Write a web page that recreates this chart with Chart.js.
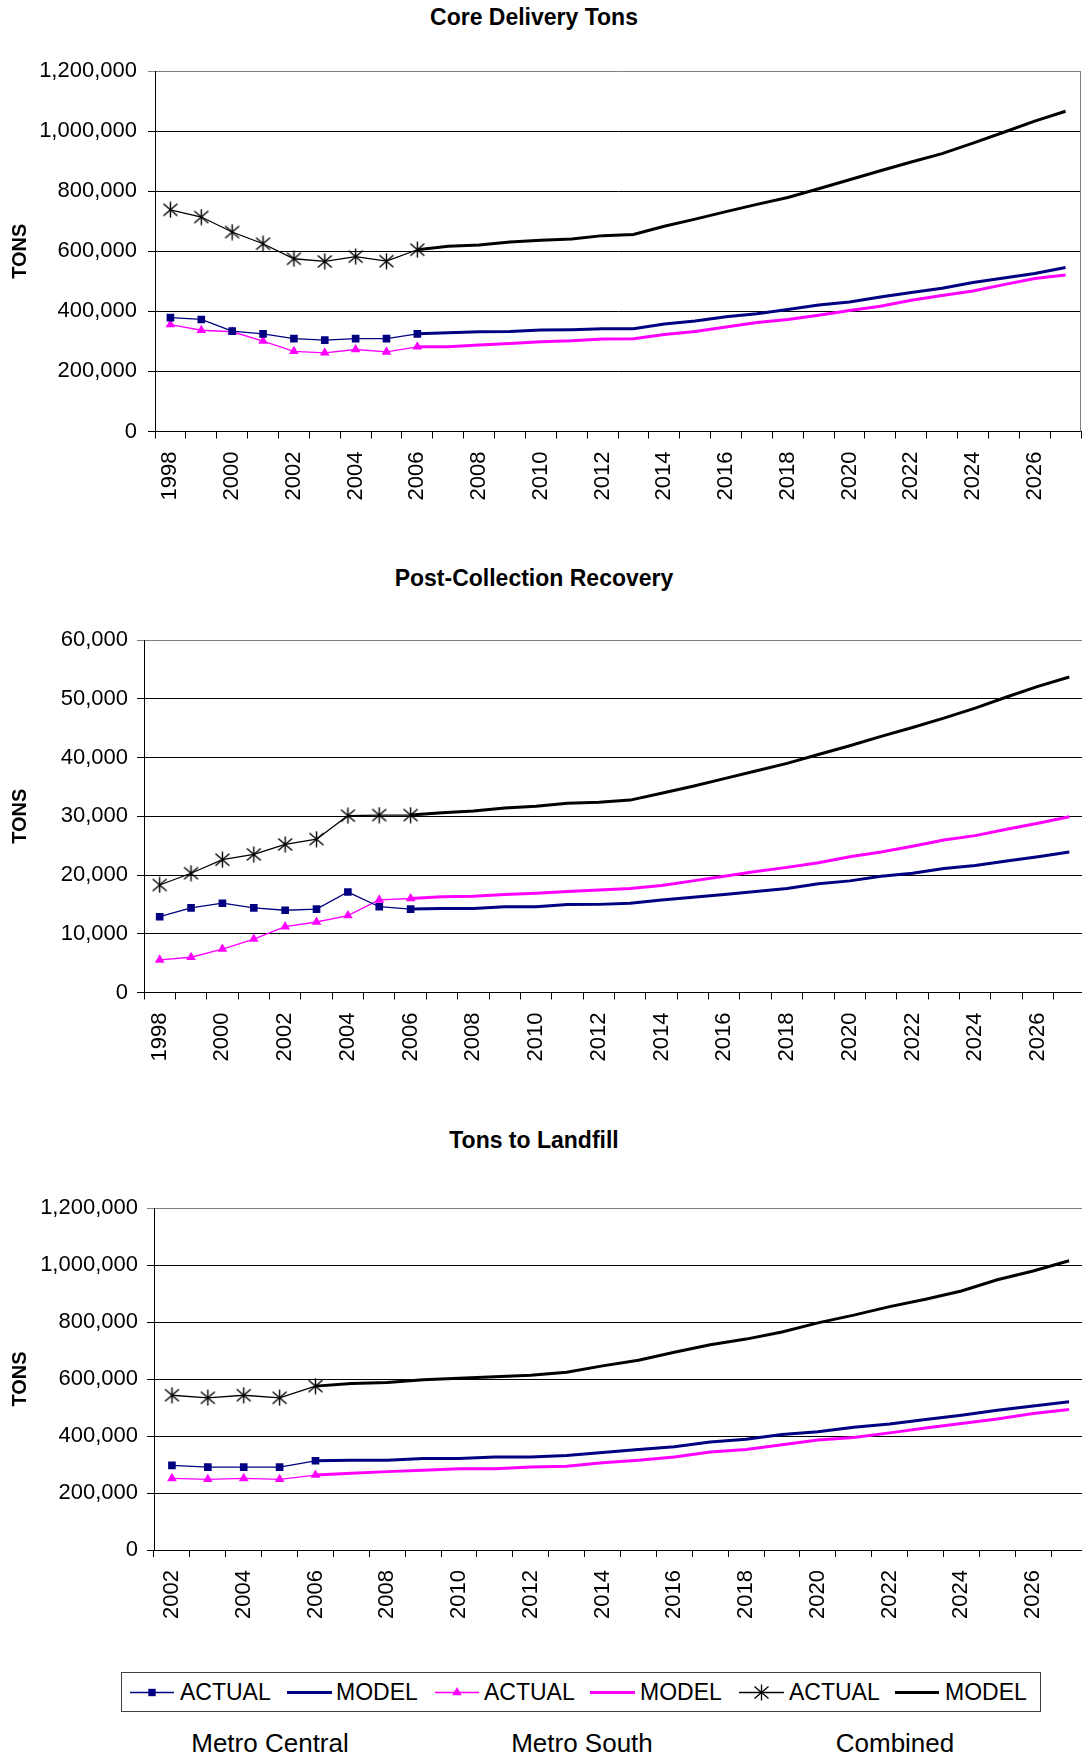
<!DOCTYPE html>
<html>
<head>
<meta charset="utf-8">
<script src="https://cdn.jsdelivr.net/npm/chart.js@4.4.1/dist/chart.umd.min.js"></script>
<style>
  html, body { margin: 0; padding: 0; background: #fff; overflow: hidden; width: 1082px; height: 1757px; }
  body { position: relative; font-family: 'Liberation Sans', Arial, sans-serif; color: #000; }
  canvas { position: absolute; left: 0; }
  .chart-title { position: absolute; left: 0; width: 1068px; text-align: center; font-weight: bold; font-size: 23px; line-height: 23px; white-space: nowrap; }
  #legendBox { position: absolute; left: 121px; top: 1672px; width: 920px; height: 40px; box-sizing: border-box; border: 1px solid #404040; }
  .legend-text { position: absolute; font-size: 23px; line-height: 23px; white-space: nowrap; }
  .group-label { position: absolute; width: 240px; text-align: center; font-size: 26px; line-height: 26px; white-space: nowrap; }
  #legendMarks { position: absolute; left: 0; top: 1672px; }
</style>
</head>
<body>
<div class="chart-title" style="top:6px">Core Delivery Tons</div>
<canvas id="coreChart"></canvas>
<div class="chart-title" style="top:567px">Post-Collection Recovery</div>
<canvas id="recoveryChart"></canvas>
<div class="chart-title" style="top:1129px">Tons to Landfill</div>
<canvas id="landfillChart"></canvas>
<div id="legendBox"></div>
<svg id="legendMarks" width="1082" height="40"></svg>
<div id="legendTexts"></div>

<script>
// ---- categories ----
const yearsFrom1998 = ['1998','1999','2000','2001','2002','2003','2004','2005','2006','2007',
  '2008','2009','2010','2011','2012','2013','2014','2015','2016','2017',
  '2018','2019','2020','2021','2022','2023','2024','2025','2026','2027'];
const yearsFrom2002 = ['2002','2003','2004','2005','2006','2007','2008','2009','2010','2011',
  '2012','2013','2014','2015','2016','2017','2018','2019','2020','2021',
  '2022','2023','2024','2025','2026','2027'];

// ---- Core Delivery Tons (actual 1998-2006, model 2006-2027) ----
const coreCentralActual  = [379000, 373000, 334000, 325000, 309000, 304000, 309000, 309000, 325000];
const coreCentralModel   = [325000, 329000, 332000, 333000, 338000, 339000, 342000, 342000, 358000, 368000, 382000,
  392000, 406000, 421000, 431000, 448000, 463000, 477000, 496000, 511000, 526000, 546000];
const coreSouthActual    = [356000, 337000, 332000, 301000, 267000, 262000, 273000, 265000, 282000];
const coreSouthModel     = [282000, 282000, 288000, 293000, 299000, 302000, 308000, 309000, 323000, 333000, 348000,
  363000, 373000, 387000, 403000, 417000, 437000, 453000, 468000, 489000, 509000, 521000];
const coreCombinedActual = [738000, 714000, 664000, 625000, 575000, 566000, 582000, 567000, 605000];
const coreCombinedModel  = [605000, 617000, 621000, 631000, 637000, 641000, 652000, 656000, 683000, 707000, 732000,
  756000, 779000, 808000, 838000, 868000, 897000, 925000, 960000, 996000, 1033000, 1066000];

// ---- Post-Collection Recovery (actual 1998-2006, model 2006-2027) ----
const recCentralActual  = [12900, 14400, 15200, 14400, 14000, 14200, 17100, 14600, 14200];
const recCentralModel   = [14200, 14300, 14300, 14600, 14600, 14960, 15000, 15200, 15750, 16200, 16700,
  17200, 17700, 18500, 19000, 19800, 20300, 21100, 21600, 22400, 23100, 23900];
const recSouthActual    = [5550, 6000, 7400, 9100, 11200, 12000, 13100, 15750, 16000];
const recSouthModel     = [16000, 16300, 16400, 16700, 16900, 17200, 17450, 17700, 18200, 19000, 19800,
  20600, 21300, 22100, 23100, 23900, 24900, 25950, 26700, 27800, 28800, 29900];
const recCombinedActual = [18300, 20300, 22600, 23500, 25200, 26100, 30100, 30200, 30200];
const recCombinedModel  = [30200, 30600, 30900, 31400, 31700, 32200, 32400, 32750, 33900, 35100, 36400,
  37700, 39000, 40500, 42000, 43600, 45100, 46700, 48400, 50300, 52100, 53700];

// ---- Tons to Landfill (actual 2002-2006, model 2006-2027) ----
const landCentralActual  = [297000, 291000, 291000, 291000, 313000];
const landCentralModel   = [313000, 315000, 315000, 321000, 321000, 326000, 326000, 332000, 342000, 353000, 362000,
  379000, 389000, 405000, 415000, 431000, 442000, 458000, 473000, 490000, 505000, 520000];
const landSouthActual    = [251000, 248000, 251000, 248000, 263000];
const landSouthModel     = [263000, 269000, 275000, 280000, 285000, 285000, 291000, 294000, 306000, 315000, 326000,
  344000, 353000, 369000, 386000, 395000, 411000, 428000, 444000, 460000, 479000, 493000];
const landCombinedActual = [543000, 534000, 543000, 534000, 575000];
const landCombinedModel  = [575000, 584000, 588000, 597000, 603000, 608000, 613000, 624000, 646000, 666000, 694000,
  720000, 740000, 765000, 797000, 824000, 854000, 880000, 909000, 948000, 979000, 1015000];

// ---- legend / group labels ----
const legendLabels = ['ACTUAL', 'MODEL', 'ACTUAL', 'MODEL', 'ACTUAL', 'MODEL'];
const groupLabels = ['Metro Central', 'Metro South', 'Combined'];

// ---- drawing ----
const NAVY = '#000080', MAGENTA = '#FF00FF', BLACK = '#000000';
const FONT = "'Liberation Sans', Arial, sans-serif";
Chart.defaults.font.family = FONT;
Chart.defaults.color = '#000';

// asterisk marker used for the combined actual series
const starMarker = (() => {
  const c = document.createElement('canvas');
  c.width = 17; c.height = 17;
  const g = c.getContext('2d');
  g.strokeStyle = BLACK; g.lineWidth = 1.4;
  g.beginPath();
  g.moveTo(1.5, 2.5); g.lineTo(15.5, 14.5);
  g.moveTo(15.5, 2.5); g.lineTo(1.5, 14.5);
  g.moveTo(8.5, 0.5); g.lineTo(8.5, 16.5);
  g.stroke();
  return c;
})();

// put a run of values into the category slots starting at a given year
function place(labels, firstYear, values) {
  const start = labels.indexOf(String(firstYear));
  return labels.map((_, i) => (i >= start && i - start < values.length) ? values[i - start] : null);
}

function buildDatasets(labels, actualStart, s) {
  const actual = (data, color, style, radius) => ({
    label: 'ACTUAL', data: place(labels, actualStart, data),
    borderColor: color, backgroundColor: color, borderWidth: 1.3,
    pointStyle: style, pointRadius: radius, pointBorderWidth: 0,
    pointBackgroundColor: color, tension: 0, spanGaps: false
  });
  const model = (data, color) => ({
    label: 'MODEL', data: place(labels, 2006, data),
    borderColor: color, backgroundColor: color, borderWidth: 3,
    pointRadius: 0, tension: 0, spanGaps: false
  });
  return [
    actual(s.ca, NAVY, 'rect', 5.4),
    model(s.cm, NAVY),
    actual(s.sa, MAGENTA, 'triangle', 5.6),
    model(s.sm, MAGENTA),
    actual(s.ka, BLACK, starMarker, 8),
    model(s.km, BLACK)
  ];
}

// grey frame line on the right edge of the plot area
const plotFrame = {
  id: 'plotFrame',
  beforeDatasetsDraw(chart) {
    const { ctx, chartArea: a } = chart;
    ctx.save();
    ctx.strokeStyle = '#808080';
    ctx.lineWidth = 1;
    const x = Math.round(a.right) - 0.5;
    ctx.beginPath(); ctx.moveTo(x, a.top); ctx.lineTo(x, a.bottom); ctx.stroke();
    ctx.restore();
  }
};

function makeChart(id, opts) {
  const canvas = document.getElementById(id);
  canvas.width = opts.w; canvas.height = opts.h;
  canvas.style.width = opts.w + 'px'; canvas.style.height = opts.h + 'px';
  canvas.style.top = opts.top + 'px';
  return new Chart(canvas, {
    type: 'line',
    data: { labels: opts.labels, datasets: buildDatasets(opts.labels, opts.actualStart, opts.series) },
    plugins: [plotFrame],
    options: {
      responsive: false, animation: false, devicePixelRatio: 1, events: [],
      layout: { autoPadding: false, padding: { top: opts.padTop, right: 1, left: 0, bottom: 0 } },
      plugins: { legend: { display: false }, tooltip: { enabled: false }, title: { display: false } },
      scales: {
        x: {
          type: 'category', offset: true,
          grid: { drawOnChartArea: false, offset: true, tickLength: 7, color: '#000', lineWidth: 1 },
          border: { color: '#000', width: 1 },
          ticks: {
            autoSkip: false, maxRotation: 90, minRotation: 90, padding: 13,
            font: { size: 22 }, color: '#000',
            callback(v, i) { return i % 2 === 0 ? this.getLabelForValue(v) : ''; }
          },
          afterFit(scale) {
            scale.height = opts.xHeight;
            scale.paddingLeft = 0;
            scale.paddingRight = 0;
          }
        },
        y: {
          min: 0, max: opts.max,
          grid: {
            tickLength: 7, lineWidth: 1,
            color: c => (c.tick && c.tick.value === opts.max) ? '#808080' : '#000'
          },
          border: { color: '#000', width: 1 },
          ticks: {
            stepSize: opts.step, padding: opts.tickPad, font: { size: 22 }, color: '#000',
            callback: v => Number(v).toLocaleString('en-US')
          },
          title: { display: true, text: 'TONS', font: { size: 20, weight: 'bold' }, padding: { top: 8, bottom: 0 }, color: '#000' },
          afterFit(scale) { scale.width = opts.yWidth; }
        }
      }
    }
  });
}

makeChart('coreChart', {
  labels: yearsFrom1998, actualStart: 1998, top: 0, w: 1082, h: 520,
  padTop: 71, xHeight: 88.5, yWidth: 155, tickPad: 11, max: 1200000, step: 200000,
  series: { ca: coreCentralActual, cm: coreCentralModel, sa: coreSouthActual, sm: coreSouthModel, ka: coreCombinedActual, km: coreCombinedModel }
});
makeChart('recoveryChart', {
  labels: yearsFrom1998, actualStart: 1998, top: 560, w: 1086, h: 520,
  padTop: 80, xHeight: 87.5, yWidth: 144, tickPad: 9, max: 60000, step: 10000,
  series: { ca: recCentralActual, cm: recCentralModel, sa: recSouthActual, sm: recSouthModel, ka: recCombinedActual, km: recCombinedModel }
});
makeChart('landfillChart', {
  labels: yearsFrom2002, actualStart: 2002, top: 1120, w: 1088, h: 510,
  padTop: 88, xHeight: 80, yWidth: 154, tickPad: 9, max: 1200000, step: 200000,
  series: { ca: landCentralActual, cm: landCentralModel, sa: landSouthActual, sm: landSouthModel, ka: landCombinedActual, km: landCombinedModel }
});

// ---- shared legend ----
(function buildLegend() {
  const svg = document.getElementById('legendMarks');
  const NS = 'http://www.w3.org/2000/svg';
  const cy = 20.5;
  const samples = [
    { x1: 130, x2: 174, color: NAVY, width: 1.3, marker: 'square', tx: 180 },
    { x1: 287, x2: 332, color: NAVY, width: 3, tx: 336 },
    { x1: 435, x2: 479, color: MAGENTA, width: 1.3, marker: 'triangle', tx: 484 },
    { x1: 590, x2: 635, color: MAGENTA, width: 3, tx: 640 },
    { x1: 739, x2: 784, color: BLACK, width: 1.3, marker: 'star', tx: 789 },
    { x1: 895, x2: 939, color: BLACK, width: 3, tx: 945 }
  ];
  const add = (tag, attrs) => {
    const el = document.createElementNS(NS, tag);
    for (const k in attrs) el.setAttribute(k, attrs[k]);
    svg.appendChild(el);
  };
  const texts = document.getElementById('legendTexts');
  samples.forEach((s, i) => {
    add('line', { x1: s.x1, y1: cy, x2: s.x2, y2: cy, stroke: s.color, 'stroke-width': s.width });
    const mx = (s.x1 + s.x2) / 2;
    if (s.marker === 'square') add('rect', { x: mx - 3.7, y: cy - 3.7, width: 7.4, height: 7.4, fill: s.color });
    if (s.marker === 'triangle') add('polygon', { points: `${mx},${cy - 5.4} ${mx + 4.7},${cy + 2.7} ${mx - 4.7},${cy + 2.7}`, fill: s.color });
    if (s.marker === 'star') {
      add('path', { d: `M${mx - 7},${cy - 6} L${mx + 7},${cy + 6} M${mx + 7},${cy - 6} L${mx - 7},${cy + 6} M${mx},${cy - 8} L${mx},${cy + 8}`, stroke: s.color, 'stroke-width': 1.3, fill: 'none' });
    }
    const t = document.createElement('div');
    t.className = 'legend-text';
    t.style.left = s.tx + 'px';
    t.style.top = '1681px';
    t.textContent = legendLabels[i];
    texts.appendChild(t);
  });
  const centers = [270, 582, 895];
  groupLabels.forEach((g, i) => {
    const d = document.createElement('div');
    d.className = 'group-label';
    d.style.left = (centers[i] - 120) + 'px';
    d.style.top = '1730px';
    d.textContent = g;
    texts.appendChild(d);
  });
})();
</script>
</body>
</html>
